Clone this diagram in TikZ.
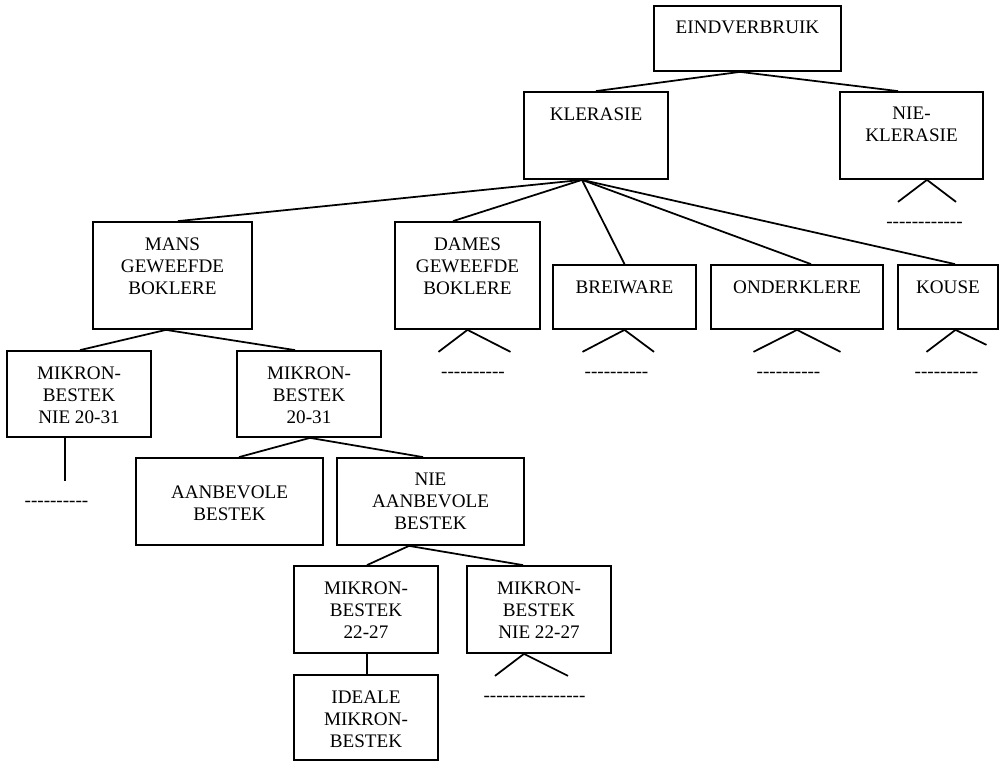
\documentclass[tikz,border=0pt]{standalone}
\usepackage{fontspec}
\setmainfont{Liberation Serif}
\usetikzlibrary{fit,calc}
\newcommand{\Dashes}[1]{\foreach \k in {1,...,#1}{-}}

\tikzset{
  box/.style={draw, line width=1.1pt, inner sep=0pt},
  boxtext/.style={anchor=north, align=center, inner sep=0pt, yshift=-10pt},
  dashrow/.style={anchor=base, inner sep=0pt},
  link/.style={line width=1.1pt},
}

\begin{document}
\begin{tikzpicture}[x=0.627pt, y=-0.627pt, font=\fontsize{12}{13.8}\selectfont]
		\useasboundingbox (0,0) rectangle (1000,761);

		% Define nodes
		\node[box, fit={(654,6) (841,71)}, label={[boxtext]north:EINDVERBRUIK}] (eind) {};
		\node[box, fit={(524,92) (668,179)}, label={[boxtext]north:KLERASIE}] (kler) {};
		\node[box, fit={(840,92) (983,179)}, label={[boxtext]north:NIE-\\KLERASIE}] (niekler) {};
		\node[box, fit={(93,222) (252,329)}, label={[boxtext]north:MANS\\GEWEEFDE\\BOKLERE}] (mans) {};
		\node[box, fit={(395,222) (540,329)}, label={[boxtext]north:DAMES\\GEWEEFDE\\BOKLERE}] (dames) {};
		\node[box, fit={(553,265) (696,329)}, label={[boxtext]north:BREIWARE}] (brei) {};
		\node[box, fit={(711,265) (883,329)}, label={[boxtext]north:ONDERKLERE}] (onder) {};
		\node[box, fit={(898,265) (998,329)}, label={[boxtext]north:KOUSE}] (kouse) {};
		\node[box, fit={(7,351) (151,437)}, label={[boxtext]north:MIKRON-\\BESTEK\\NIE 20-31}] (mikronnie) {};
		\node[box, fit={(237,351) (381,437)}, label={[boxtext]north:MIKRON-\\BESTEK\\20-31}] (mikron) {};
		\node[box, fit={(136,458) (323,545)}, label={[boxtext, yshift=-8pt]north:AANBEVOLE\\BESTEK}] (aanb) {};
		\node[box, fit={(337,458) (524,545)}, label={[boxtext]north:NIE\\AANBEVOLE\\BESTEK}] (nieaanb) {};
		\node[box, fit={(294,566) (438,653)}, label={[boxtext]north:MIKRON-\\BESTEK\\22-27}] (mik22) {};
		\node[box, fit={(467,566) (611,653)}, label={[boxtext]north:MIKRON-\\BESTEK\\NIE 22-27}] (miknie22) {};
		\node[box, fit={(294,675) (438,760)}, label={[boxtext]north:IDEALE\\MIKRON-\\BESTEK}] (ideale) {};

		% Connect the nodes
		\foreach \p/\pdx/\c/\cdx in {
			eind/-7.5/kler/0, eind/-7.5/niekler/-13.5,
			kler/-14/mans/5.5, kler/-14/dames/-14.5, kler/-14/brei/0, kler/-14/onder/14, kler/-14/kouse/7,
			mans/-6.5/mikronnie/1, mans/-6.5/mikron/-14,
			mikron/1/aanb/9.5, mikron/1/nieaanb/-7.5,
			nieaanb/-21.5/mik22/1, nieaanb/-21.5/miknie22/-16,
			mik22/1/ideale/1}
			\draw[link] ($(\p.south)+(\pdx,0)$) -- ($(\c.north)+(\cdx,0)$);

		% Open ends
		\foreach \n/\dx/\l/\ly/\r/\ry in {
			niekler/15.5/-29/22/29/22, dames/0/-29/22/43/22, brei/0/-42/22/29.5/22,
			onder/0/-43.5/22/43.5/22, kouse/7.5/-29/22/31/15, miknie22/-15/-29/22/44/22}
			\draw[link] ($(\n.south)+(\dx+\l,\ly)$) -- ($(\n.south)+(\dx,0)$) -- ($(\n.south)+(\dx+\r,\ry)$);
		\draw[link] ($(mikronnie.south)+(-14,0)$) -- ($(mikronnie.south)+(-14,43)$);

		\foreach \n/\dx/\dy/\c in {
			niekler/13/47.5/12, dames/5.5/47.5/10, brei/-8/47.5/10, onder/-8.5/47.5/10,
			kouse/-1.5/47.5/10, miknie22/-4.5/47.5/16, mikronnie/-22.5/69/10}
			\node[dashrow] (\n-dash) at ($(\n.south)+(\dx,\dy)$) {\Dashes{\c}};
	\end{tikzpicture}
\end{document}
